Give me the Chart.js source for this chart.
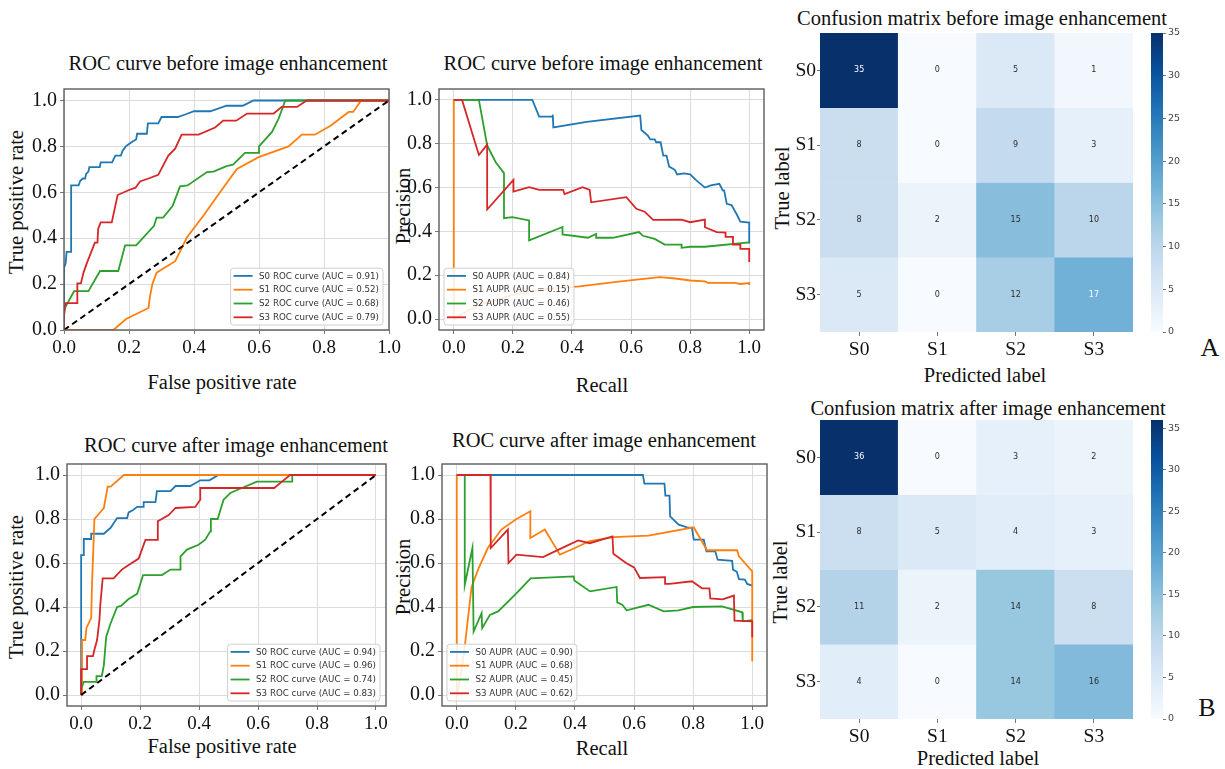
<!DOCTYPE html>
<html>
<head>
<meta charset="utf-8">
<title>ROC / PR curves and confusion matrices</title>
<script src="https://cdn.jsdelivr.net/npm/chart.js@4.4.1/dist/chart.umd.min.js"></script>
<style>
  html, body { margin: 0; padding: 0; background: #fff; }
  body {
    width: 1225px; height: 769px; position: relative; overflow: hidden;
    font-family: "Liberation Serif", "Times New Roman", serif; color: #111;
  }
  .box { position: absolute; }
  .lbl { position: absolute; white-space: nowrap; transform: translate(-50%, -50%); font-size: 20.5px; line-height: 1; }
  .rot { transform: translate(-50%, -50%) rotate(-90deg); }
  .big { font-size: 26px; }
</style>
</head>
<body>

<div class="lbl" style="left:228px;top:63px">ROC curve before image enhancement</div>
<div class="lbl" style="left:603px;top:63px">ROC curve before image enhancement</div>
<div class="lbl" style="left:236px;top:445px">ROC curve after image enhancement</div>
<div class="lbl" style="left:604px;top:440px">ROC curve after image enhancement</div>
<div class="lbl" style="left:982px;top:18px">Confusion matrix before image enhancement</div>
<div class="lbl" style="left:988px;top:408px">Confusion matrix after image enhancement</div>

<div class="lbl" style="left:222px;top:382px">False positive rate</div>
<div class="lbl" style="left:602px;top:385px">Recall</div>
<div class="lbl" style="left:222px;top:746px">False positive rate</div>
<div class="lbl" style="left:602px;top:748px">Recall</div>
<div class="lbl" style="left:985px;top:375px">Predicted label</div>
<div class="lbl" style="left:978px;top:758px">Predicted label</div>

<div class="lbl rot" style="left:16px;top:202px">True positive rate</div>
<div class="lbl rot" style="left:403px;top:206px">Precision</div>
<div class="lbl rot" style="left:16px;top:587px">True positive rate</div>
<div class="lbl rot" style="left:403px;top:577px">Precision</div>
<div class="lbl rot" style="left:782px;top:188px">True label</div>
<div class="lbl rot" style="left:780px;top:582px">True label</div>

<div class="lbl big" style="left:1210px;top:348px">A</div>
<div class="lbl big" style="left:1207px;top:708px">B</div>

<script>
// ---- data ----
const classNames = ["S0", "S1", "S2", "S3"];
const unitTicks = [0, 0.2, 0.4, 0.6, 0.8, 1.0];
const colorbarTicks = [0, 5, 10, 15, 20, 25, 30, 35];
const diagonal = [[0, 0], [1, 1]];

const rocBeforeAuc = [0.91, 0.52, 0.68, 0.79];
const prBeforeAuc = [0.84, 0.15, 0.46, 0.55];
const rocAfterAuc = [0.94, 0.96, 0.74, 0.83];
const prAfterAuc = [0.90, 0.68, 0.45, 0.62];

const rocBeforeS0 = [[0,0],[0,0.27],[0.005,0.29],[0.008,0.34],[0.022,0.34],[0.022,0.63],[0.045,0.63],[0.05,0.65],[0.058,0.66],[0.065,0.66],[0.068,0.68],[0.075,0.69],[0.078,0.71],[0.11,0.71],[0.113,0.73],[0.148,0.73],[0.158,0.76],[0.175,0.76],[0.18,0.78],[0.19,0.8],[0.2,0.81],[0.21,0.82],[0.222,0.83],[0.225,0.855],[0.255,0.855],[0.258,0.9],[0.29,0.9],[0.3,0.928],[0.35,0.928],[0.375,0.94],[0.4,0.953],[0.45,0.953],[0.5,0.977],[0.55,0.977],[0.583,1],[1,1]];
const rocBeforeS1 = [[0,0],[0.152,0],[0.191,0.048],[0.26,0.096],[0.265,0.15],[0.272,0.2],[0.285,0.25],[0.342,0.3],[0.36,0.35],[0.378,0.403],[0.43,0.5],[0.48,0.6],[0.532,0.702],[0.599,0.753],[0.691,0.8],[0.732,0.851],[0.772,0.851],[0.82,0.89],[0.876,0.95],[0.89,0.95],[0.914,1],[1,1]];
const rocBeforeS2 = [[0,0],[0,0.089],[0.031,0.169],[0.075,0.169],[0.111,0.257],[0.167,0.257],[0.188,0.369],[0.222,0.369],[0.277,0.454],[0.285,0.49],[0.305,0.49],[0.334,0.54],[0.357,0.626],[0.38,0.63],[0.44,0.688],[0.46,0.69],[0.5,0.714],[0.52,0.72],[0.557,0.772],[0.6,0.772],[0.6,0.8],[0.64,0.863],[0.66,0.92],[0.681,1],[1,1]];
const rocBeforeS3 = [[0,0],[0,0.06],[0.005,0.117],[0.041,0.117],[0.041,0.203],[0.052,0.203],[0.06,0.25],[0.07,0.29],[0.095,0.381],[0.103,0.381],[0.105,0.44],[0.113,0.469],[0.147,0.469],[0.165,0.588],[0.2,0.61],[0.22,0.62],[0.234,0.647],[0.26,0.66],[0.29,0.676],[0.321,0.76],[0.342,0.79],[0.362,0.851],[0.414,0.851],[0.465,0.882],[0.49,0.912],[0.53,0.912],[0.563,0.943],[0.645,0.943],[0.67,0.972],[0.717,0.972],[0.747,1],[1,1]];

const prBeforeS0 = [[0,1],[0.266,1],[0.289,0.924],[0.334,0.924],[0.335,0.933],[0.337,0.875],[0.45,0.9],[0.631,0.929],[0.635,0.863],[0.657,0.837],[0.665,0.82],[0.68,0.82],[0.685,0.807],[0.7,0.807],[0.709,0.746],[0.72,0.746],[0.729,0.696],[0.748,0.681],[0.756,0.66],[0.78,0.665],[0.8,0.66],[0.822,0.632],[0.85,0.6],[0.87,0.61],[0.899,0.617],[0.91,0.587],[0.915,0.587],[0.924,0.526],[0.94,0.52],[0.958,0.477],[0.97,0.445],[1,0.44],[1,0.345]];
const prBeforeS1 = [[0,1],[0,0],[0.05,0.04],[0.1,0.07],[0.2,0.11],[0.3,0.135],[0.425,0.149],[0.55,0.17],[0.697,0.191],[0.75,0.185],[0.8,0.176],[0.85,0.172],[0.86,0.165],[0.95,0.165],[0.97,0.16],[1,0.164],[1,0.155]];
const prBeforeS2 = [[0,1],[0.085,1],[0.113,0.792],[0.142,0.716],[0.17,0.666],[0.17,0.46],[0.198,0.465],[0.255,0.45],[0.255,0.359],[0.368,0.42],[0.368,0.386],[0.454,0.371],[0.482,0.389],[0.482,0.371],[0.538,0.371],[0.627,0.397],[0.64,0.38],[0.68,0.366],[0.714,0.34],[0.771,0.34],[0.771,0.325],[0.8,0.33],[0.85,0.33],[1,0.35]];
const prBeforeS3 = [[0,1],[0.028,1],[0.085,0.749],[0.113,0.796],[0.113,0.5],[0.202,0.635],[0.202,0.582],[0.255,0.602],[0.289,0.59],[0.37,0.59],[0.375,0.57],[0.436,0.602],[0.46,0.59],[0.465,0.533],[0.584,0.556],[0.618,0.503],[0.646,0.49],[0.675,0.453],[0.771,0.454],[0.8,0.442],[0.85,0.454],[0.85,0.419],[0.89,0.397],[0.92,0.395],[0.92,0.375],[0.945,0.375],[0.945,0.34],[0.97,0.34],[0.97,0.32],[1,0.32],[1,0.26]];

const rocAfterS0 = [[0,0],[0,0.636],[0.009,0.636],[0.009,0.709],[0.034,0.709],[0.034,0.733],[0.077,0.733],[0.1,0.76],[0.122,0.804],[0.156,0.804],[0.161,0.83],[0.175,0.84],[0.19,0.855],[0.212,0.855],[0.212,0.877],[0.252,0.877],[0.257,0.927],[0.303,0.927],[0.32,0.95],[0.37,0.95],[0.404,0.976],[0.435,0.976],[0.466,1],[1,1]];
const rocAfterS1 = [[0,0],[0.003,0],[0.003,0.25],[0.014,0.25],[0.018,0.305],[0.034,0.35],[0.037,0.51],[0.045,0.8],[0.077,0.85],[0.09,0.947],[0.1,0.947],[0.145,1],[1,1]];
const rocAfterS2 = [[0,0],[0,0.027],[0.009,0.06],[0.052,0.06],[0.052,0.086],[0.07,0.086],[0.077,0.136],[0.085,0.265],[0.1,0.326],[0.122,0.4],[0.135,0.405],[0.161,0.436],[0.19,0.46],[0.21,0.545],[0.274,0.545],[0.303,0.57],[0.337,0.57],[0.337,0.63],[0.359,0.661],[0.398,0.683],[0.421,0.706],[0.438,0.744],[0.44,0.8],[0.463,0.8],[0.483,0.888],[0.506,0.918],[0.545,0.941],[0.596,0.97],[0.716,0.97],[0.716,1],[1,1]];
const rocAfterS3 = [[0,0],[0,0.118],[0.02,0.118],[0.02,0.177],[0.04,0.177],[0.045,0.206],[0.054,0.25],[0.062,0.34],[0.065,0.41],[0.073,0.53],[0.11,0.53],[0.138,0.57],[0.156,0.586],[0.195,0.62],[0.218,0.705],[0.258,0.705],[0.26,0.79],[0.297,0.818],[0.32,0.85],[0.387,0.855],[0.404,0.888],[0.404,0.941],[0.655,0.941],[0.681,0.97],[0.709,1],[1,1]];

const prAfterS0 = [[0,1],[0.63,1],[0.635,0.961],[0.703,0.961],[0.706,0.906],[0.72,0.906],[0.722,0.812],[0.751,0.774],[0.78,0.762],[0.796,0.76],[0.802,0.706],[0.836,0.706],[0.845,0.653],[0.875,0.653],[0.883,0.615],[0.932,0.61],[0.935,0.57],[0.948,0.56],[0.955,0.527],[0.975,0.525],[0.983,0.505],[1,0.497]];
const prAfterS1 = [[0,1],[0,0],[0.01,0.06],[0.027,0.22],[0.05,0.49],[0.072,0.57],[0.105,0.668],[0.151,0.752],[0.202,0.8],[0.249,0.835],[0.249,0.714],[0.298,0.752],[0.349,0.638],[0.4,0.668],[0.45,0.7],[0.53,0.718],[0.649,0.724],[0.802,0.762],[0.847,0.658],[0.949,0.658],[0.955,0.63],[1,0.562],[1,0.153]];
const prAfterS2 = [[0,1],[0.027,1],[0.027,0.5],[0.053,0.668],[0.057,0.288],[0.084,0.372],[0.086,0.304],[0.112,0.364],[0.14,0.38],[0.2,0.46],[0.25,0.53],[0.396,0.539],[0.398,0.52],[0.451,0.471],[0.541,0.491],[0.543,0.421],[0.56,0.41],[0.575,0.385],[0.649,0.41],[0.7,0.38],[0.75,0.385],[0.8,0.4],[0.898,0.403],[0.966,0.376],[0.968,0.335],[1,0.34]];
const prAfterS3 = [[0,1],[0.114,1],[0.115,0.668],[0.173,0.752],[0.175,0.6],[0.202,0.638],[0.292,0.627],[0.35,0.664],[0.411,0.703],[0.45,0.69],[0.527,0.721],[0.53,0.642],[0.573,0.6],[0.6,0.58],[0.62,0.532],[0.705,0.536],[0.705,0.505],[0.72,0.505],[0.796,0.517],[0.83,0.485],[0.855,0.485],[0.858,0.439],[0.9,0.435],[0.938,0.452],[0.94,0.338],[1,0.335],[1,0.262]];

const cmBefore = [[35, 0, 5, 1], [8, 0, 9, 3], [8, 2, 15, 10], [5, 0, 12, 17]];
const cmAfter = [[36, 0, 3, 2], [8, 5, 4, 3], [11, 2, 14, 8], [4, 0, 14, 16]];

// ---- styles ----
const SERIF = '"Liberation Serif", "Times New Roman", serif';
const SANS = '"DejaVu Sans", sans-serif';
const lineColors = ["#1f77b4", "#ff7f0e", "#2ca02c", "#d62728"];
const BLUES = ["#f7fbff", "#deebf7", "#c6dbef", "#9ecae1", "#6baed6", "#4292c6", "#2171b5", "#08519c", "#08306b"];

function hexRgb(h) {
  return [1, 3, 5].map((i) => parseInt(h.slice(i, i + 2), 16));
}

function bluesRgb(t) {
  t = Math.min(Math.max(t, 0), 1) * (BLUES.length - 1);
  const i = Math.min(Math.floor(t), BLUES.length - 2);
  const f = t - i;
  const a = hexRgb(BLUES[i]), b = hexRgb(BLUES[i + 1]);
  return a.map((v, k) => Math.round(v + (b[k] - v) * f));
}

function rgbStr(c) {
  return `rgb(${c[0]}, ${c[1]}, ${c[2]})`;
}

// seaborn-like annotation colour: dark text on light cells
function textColor(c) {
  const lin = c.map((v) => {
    v /= 255;
    return v <= 0.03928 ? v / 12.92 : Math.pow((v + 0.055) / 1.055, 2.4);
  });
  const lum = 0.2126 * lin[0] + 0.7152 * lin[1] + 0.0722 * lin[2];
  return lum > 0.408 ? "#2b2b2b" : "#ffffff";
}

function place(canvas, left, top, width, height) {
  const box = document.createElement("div");
  box.className = "box";
  box.style.left = left + "px";
  box.style.top = top + "px";
  box.style.width = width + "px";
  box.style.height = height + "px";
  canvas.width = width;
  canvas.height = height;
  box.appendChild(canvas);
  document.body.appendChild(box);
}

// ---- plugins ----
const framePlugin = {
  id: "frame",
  afterDatasetsDraw(chart) {
    const { ctx, chartArea: a } = chart;
    ctx.save();
    ctx.strokeStyle = "#5c5c5c";
    ctx.lineWidth = 1.4;
    ctx.strokeRect(a.left, a.top, a.right - a.left, a.bottom - a.top);
    ctx.restore();
  },
};

const boxLegend = {
  id: "boxLegend",
  afterDatasetsDraw(chart, args, opts) {
    const { ctx, chartArea: a } = chart;
    const items = chart.data.datasets.filter((d) => d.label);
    ctx.save();
    ctx.font = "8.7px " + SANS;
    const tw = Math.max(...items.map((d) => ctx.measureText(d.label).width));
    const rowH = 13.8, padY = 7.7, padL = 3, lineW = 19, gap = 6.5, padR = 4;
    const w = padL + lineW + gap + tw + padR;
    const h = padY * 2 + rowH * (items.length - 1);
    const x = opts.side === "right" ? a.right - 6 - w : a.left + 5;
    const y = a.bottom - 5 - h;
    ctx.beginPath();
    ctx.roundRect(x, y, w, h, 3);
    ctx.fillStyle = "rgba(255,255,255,0.85)";
    ctx.fill();
    ctx.strokeStyle = "#cfcfcf";
    ctx.lineWidth = 1;
    ctx.stroke();
    ctx.textBaseline = "middle";
    items.forEach((d, i) => {
      const cy = y + padY + rowH * i;
      ctx.strokeStyle = d.borderColor;
      ctx.lineWidth = 1.8;
      ctx.beginPath();
      ctx.moveTo(x + padL, cy);
      ctx.lineTo(x + padL + lineW, cy);
      ctx.stroke();
      ctx.fillStyle = "#333";
      ctx.fillText(d.label, x + padL + lineW + gap, cy + 0.5);
    });
    ctx.restore();
  },
};

const cellText = {
  id: "cellText",
  afterDatasetsDraw(chart) {
    const { ctx } = chart;
    ctx.save();
    ctx.font = "8px " + SANS;
    ctx.textAlign = "center";
    ctx.textBaseline = "middle";
    chart.data.datasets.forEach((ds, di) => {
      chart.getDatasetMeta(di).data.forEach((bar, ci) => {
        ctx.fillStyle = textColor(ds.cellRgb[ci]);
        ctx.fillText(String(ds.values[ci]), bar.x, (bar.y + bar.base) / 2);
      });
    });
    ctx.restore();
  },
};

// ---- line panels (ROC / PR) ----
const YW = 44, XH = 30, PT = 16, PR = 16;

function curvePanel(frame, xr, yr, curves, aucs, kind, side) {
  const canvas = document.createElement("canvas");
  place(canvas, frame.l - YW, frame.t - PT, frame.r - frame.l + YW + PR, frame.b - frame.t + PT + XH);

  const datasets = curves.map((pts, i) => ({
    label: `${classNames[i]} ${kind} (AUC = ${aucs[i].toFixed(2)})`,
    data: pts.map(([x, y]) => ({ x, y })),
    borderColor: lineColors[i],
    borderWidth: 1.8,
    order: curves.length - i,
  }));
  if (kind === "ROC curve") {
    datasets.push({
      data: diagonal.map(([x, y]) => ({ x, y })),
      borderColor: "#000",
      borderWidth: 2,
      borderDash: [6, 4],
      order: 0,
    });
  }

  const axis = (range, fit, size) => ({
    type: "linear",
    min: range[0],
    max: range[1],
    afterBuildTicks: (s) => { s.ticks = unitTicks.map((v) => ({ value: v })); },
    afterFit: fit,
    grid: { color: "#dcdcdc", lineWidth: 1, tickLength: 4, tickColor: "#777" },
    border: { display: false },
    ticks: {
      font: { family: SERIF, size },
      color: "#111",
      padding: 3,
      maxRotation: 0,
      autoSkip: false,
      callback: (v) => Number(v).toFixed(1),
    },
  });

  return new Chart(canvas.getContext("2d"), {
    type: "scatter",
    data: { datasets },
    options: {
      responsive: false,
      animation: false,
      showLine: true,
      elements: { point: { radius: 0 }, line: { tension: 0, fill: false } },
      layout: { padding: { top: PT, right: PR, left: 0, bottom: 0 } },
      plugins: {
        legend: { display: false },
        tooltip: { enabled: false },
        boxLegend: { side },
      },
      scales: {
        x: axis(xr, (s) => { s.height = XH; }, 19),
        y: axis(yr, (s) => { s.width = YW; }, 20),
      },
    },
    plugins: [framePlugin, boxLegend],
  });
}

// ---- confusion matrix panels ----
const HYW = 30, HXH = 28, HPT = 16, HPR = 10;

function matrixPanel(cells, matrix, vmax) {
  const canvas = document.createElement("canvas");
  place(canvas, cells.l - HYW, cells.t - HPT, cells.r - cells.l + HYW + HPR, cells.b - cells.t + HPT + HXH);

  const datasets = matrix.map((row, r) => {
    const rgb = row.map((v) => bluesRgb(v / vmax));
    return {
      label: classNames[r],
      data: row.map(() => [r, r + 1]),
      values: row,
      cellRgb: rgb,
      backgroundColor: rgb.map(rgbStr),
      borderWidth: 0,
      grouped: false,
      barPercentage: 1,
      categoryPercentage: 1,
    };
  });

  const tickFont = { family: SERIF, size: 19.5 };
  new Chart(canvas.getContext("2d"), {
    type: "bar",
    data: { labels: classNames, datasets },
    options: {
      responsive: false,
      animation: false,
      layout: { padding: { top: HPT, right: HPR, left: 0, bottom: 0 } },
      plugins: { legend: { display: false }, tooltip: { enabled: false } },
      scales: {
        x: {
          afterFit: (s) => { s.height = HXH; },
          grid: { drawOnChartArea: false, offset: false, tickLength: 4, tickColor: "#777" },
          border: { display: false },
          ticks: { font: tickFont, color: "#111", padding: 2, maxRotation: 0 },
        },
        y: {
          type: "linear",
          min: 0,
          max: classNames.length,
          reverse: true,
          afterBuildTicks: (s) => { s.ticks = classNames.map((_, i) => ({ value: i + 0.5 })); },
          afterFit: (s) => { s.width = HYW; },
          grid: { drawOnChartArea: false, tickLength: 3, tickColor: "#777" },
          border: { display: false },
          ticks: { font: tickFont, color: "#111", padding: 1, callback: (v, i) => classNames[i] },
        },
      },
    },
    plugins: [cellText],
  });

  // colour bar
  const cb = document.createElement("canvas");
  const CBW = 12, CBT = 34, CPAD = 10;
  place(cb, 1151, cells.t - CPAD, CBW + CBT, cells.b - cells.t + 2 * CPAD);
  new Chart(cb.getContext("2d"), {
    type: "bar",
    data: {
      labels: ["scale"],
      datasets: [{
        data: [[0, vmax]],
        borderWidth: 0,
        barPercentage: 1,
        categoryPercentage: 1,
        backgroundColor: (ctx) => {
          const a = ctx.chart.chartArea;
          if (!a) return BLUES[4];
          const g = ctx.chart.ctx.createLinearGradient(0, a.bottom, 0, a.top);
          BLUES.forEach((c, i) => g.addColorStop(i / (BLUES.length - 1), c));
          return g;
        },
      }],
    },
    options: {
      responsive: false,
      animation: false,
      layout: { padding: { top: CPAD, bottom: CPAD, left: 0, right: 0 } },
      plugins: { legend: { display: false }, tooltip: { enabled: false } },
      scales: {
        x: { display: false },
        y: {
          position: "right",
          min: 0,
          max: vmax,
          afterBuildTicks: (s) => { s.ticks = colorbarTicks.map((v) => ({ value: v })); },
          afterFit: (s) => { s.width = CBT; },
          grid: { drawOnChartArea: false, tickLength: 3, tickColor: "#777" },
          border: { display: false },
          ticks: { font: { family: SANS, size: 9.5 }, color: "#444", padding: 2 },
        },
      },
    },
  });
}

function initFigure() {
  curvePanel({ l: 64, t: 89, r: 389, b: 330 }, [0, 1], [0, 1.05],
    [rocBeforeS0, rocBeforeS1, rocBeforeS2, rocBeforeS3], rocBeforeAuc, "ROC curve", "right");
  curvePanel({ l: 439, t: 89, r: 764, b: 330 }, [-0.05, 1.05], [-0.05, 1.05],
    [prBeforeS0, prBeforeS1, prBeforeS2, prBeforeS3], prBeforeAuc, "AUPR", "left");
  curvePanel({ l: 67, t: 464, r: 386, b: 706 }, [-0.048, 1.034], [-0.05, 1.05],
    [rocAfterS0, rocAfterS1, rocAfterS2, rocAfterS3], rocAfterAuc, "ROC curve", "right");
  curvePanel({ l: 442, t: 464, r: 767, b: 706 }, [-0.05, 1.05], [-0.05, 1.05],
    [prAfterS0, prAfterS1, prAfterS2, prAfterS3], prAfterAuc, "AUPR", "left");

  matrixPanel({ l: 820, t: 33, r: 1133, b: 332 }, cmBefore, 35);
  matrixPanel({ l: 820, t: 420, r: 1133, b: 719 }, cmAfter, 36);
}

initFigure();
</script>
</body>
</html>
